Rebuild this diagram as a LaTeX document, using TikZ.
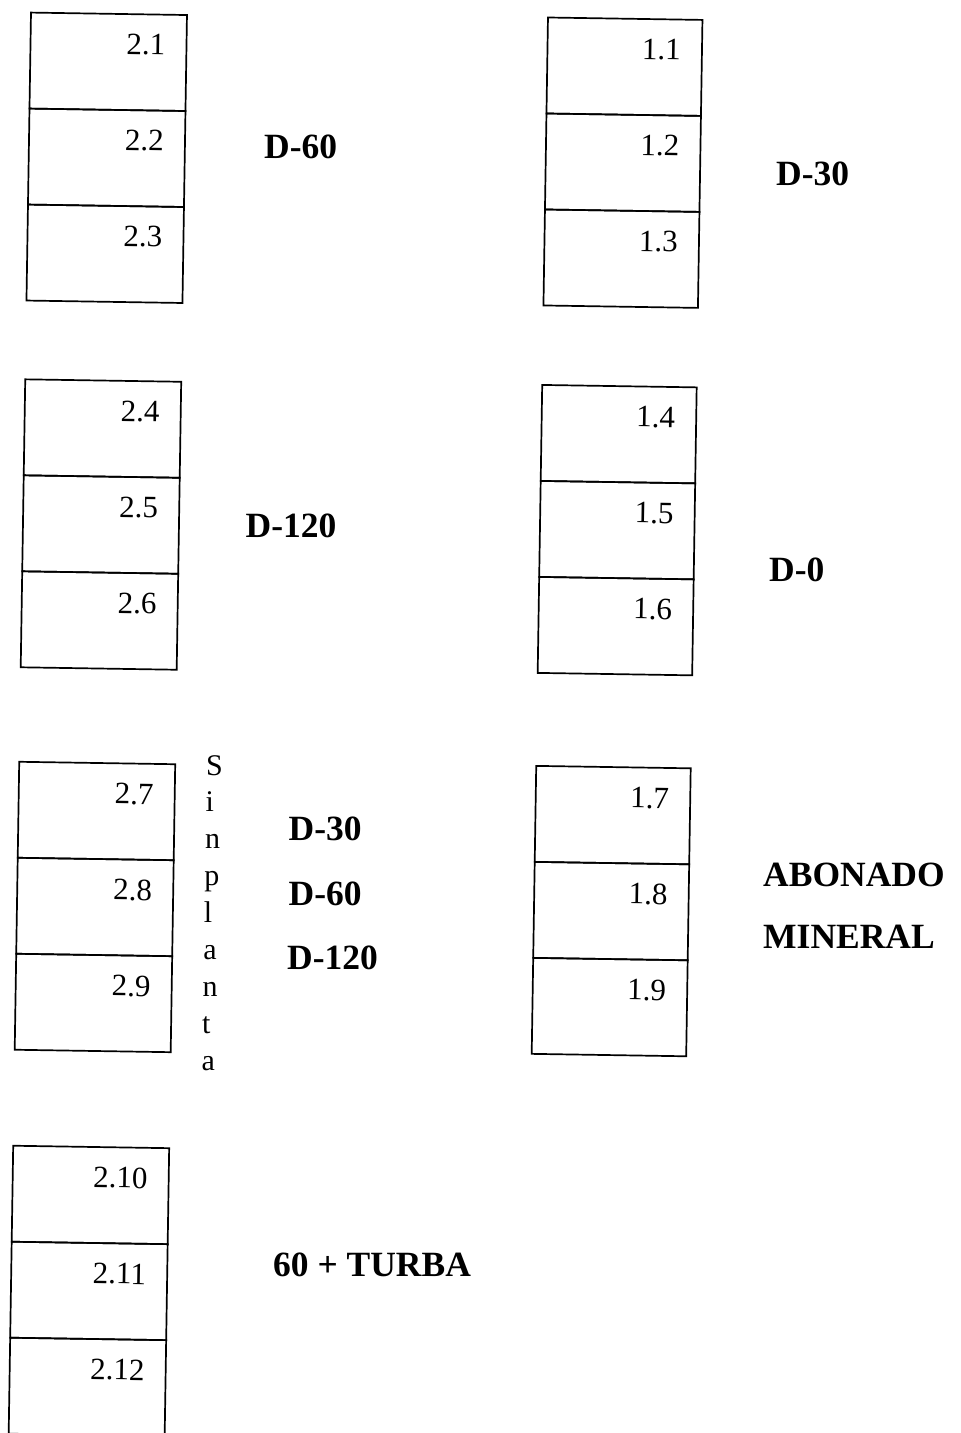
\documentclass[tikz,border=0pt]{standalone}
\usepackage{fontspec}
\setmainfont{Liberation Serif}
\tikzset{
  cell/.style={draw=black, line width=1.7pt, minimum height=96pt, anchor=north west, inner sep=0pt, outer sep=0pt},
  num/.style={font=\fontsize{31}{34}\selectfont, anchor=base east, inner sep=0pt},
  lab/.style={font=\bfseries\fontsize{35.5}{40}\selectfont, anchor=base west, inner sep=0pt},
  letter/.style={font=\fontsize{30}{32}\selectfont, anchor=base west, inner sep=0pt},
}
\begin{document}
\begin{tikzpicture}[x=1pt, y=-1pt]
\fill[white] (0,0) rectangle (961,1433);
\clip (0,0) rectangle (961,1433);
\begin{scope}[rotate around={-0.9:(480,716)}, transform shape]
\foreach \bx/\by/\bw/\la/\lb/\lc/\nm in {
  20/19.7/156/2.1/2.2/2.3/A,
  20/386.5/156/2.4/2.5/2.6/B,
  20/769/156/2.7/2.8/2.9/C,
  20/1153/156/2.10/2.11/2.12/D,
  537/16.5/154.5/1.1/1.2/1.3/E,
  537/384/154.5/1.4/1.5/1.6/F,
  537/765/154.5/1.7/1.8/1.9/G}{
  \foreach \k/\t in {0/\la,1/\lb,2/\lc}{
    \node[cell, minimum width=\bw pt] (\nm\k) at (\bx,{\by+\k*96}) {};
    \node[num] (\nm\k t) at ({\bx+\bw-21},{\by+\k*96+40.5}) {\t};
  }
}
\end{scope}
% treatment labels
\node[lab] (l60a) at (264,158.3) {D-60};
\node[lab] (l30a) at (776,185) {D-30};
\node[lab] (l120a) at (245.5,537.7) {D-120};
\node[lab] (l0) at (769,581.7) {D-0};
\node[lab] (l30b) at (288.5,840.5) {D-30};
\node[lab] (l60b) at (288.5,905) {D-60};
\node[lab] (l120b) at (287,969) {D-120};
\node[lab] (labo) at (763,886) {ABONADO};
\node[lab] (lmin) at (763,948) {MINERAL};
\node[lab] (ltur) at (273,1276) {60 + TURBA};
% vertical "Sin planta"
\foreach \ch [count=\k from 0] in {S,i,n,p,l,a,n,t,a}{
  \node[letter] (sp\k) at ({206-0.58*\k},{775+36.9*\k}) {\ch};
}
\end{tikzpicture}
\end{document}
